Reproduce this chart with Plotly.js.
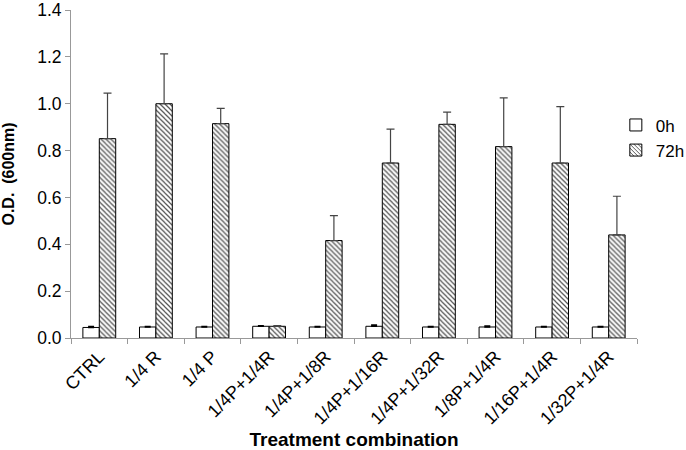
<!DOCTYPE html>
<html><head><meta charset="utf-8">
<script src="https://cdn.plot.ly/plotly-3.0.1.min.js"></script>
<style>body{margin:0;background:#fff}#c{width:686px;height:450px}</style>
</head><body><div id="c"></div>
<script>
const categories = ["CTRL","1/4 R","1/4 P","1/4P+1/4R","1/4P+1/8R","1/4P+1/16R","1/4P+1/32R","1/8P+1/4R","1/16P+1/4R","1/32P+1/4R"];
const values0h = [0.045,0.047,0.047,0.05,0.047,0.05,0.047,0.047,0.047,0.047];
const err0h = [0.004,0.002,0.002,0.002,0.002,0.006,0.002,0.004,0.002,0.002];
const values72h = [0.851,1.0,0.915,0.05,0.416,0.747,0.912,0.817,0.747,0.44];
const err72h = [0.194,0.213,0.065,0.003,0.106,0.145,0.052,0.208,0.241,0.165];
const zeros = categories.map(()=>0);

const t0 = {type:'bar', name:'0h', x:categories, y:values0h,
  marker:{color:'#ffffff', line:{color:'#000', width:1}},
  error_y:{type:'data', symmetric:false, array:err0h, arrayminus:zeros, color:'#000', thickness:1.5, width:3}};
const t1 = {type:'bar', name:'72h', x:categories, y:values72h,
  marker:{color:'#ffffff', line:{color:'#000', width:1}, pattern:{shape:'\\', fgcolor:'#555', bgcolor:'#fff', size:3.5, solidity:0.35}},
  error_y:{type:'data', symmetric:false, array:err72h, arrayminus:zeros, color:'#444', thickness:1.2, width:4}};

const layout = {
  width:686, height:450,
  margin:{l:71, r:49, t:10, b:112, autoexpand:false},
  paper_bgcolor:'#fff', plot_bgcolor:'#fff',
  barmode:'group', bargap:0.42, bargroupgap:0,
  font:{family:'Liberation Sans, Arial, sans-serif', color:'#000'},
  showlegend:true,
  legend:{x:0.9626, xanchor:'left', y:0.703, yanchor:'top', font:{size:17}, bgcolor:'rgba(0,0,0,0)', tracegroupgap:4, itemwidth:30},
  xaxis:{type:'category', showline:true, linecolor:'#999', linewidth:1, ticks:'outside', tickson:'boundaries', ticklen:5, tickcolor:'#999',
    tickangle:-45, tickfont:{size:18}, showgrid:false,
    title:{text:'<b>Treatment combination</b>', font:{size:19}, standoff:12}},
  yaxis:{range:[0,1.4001], dtick:0.2, tickformat:'.1f', showline:true, linecolor:'#999', linewidth:1, ticks:'outside', ticklen:5, tickcolor:'#999',
    tickfont:{size:17.5}, showgrid:false, zeroline:false, ticklabeloverflow:'allow',
    title:{text:'<b>O.D.  (600nm)</b>', font:{size:16}, standoff:18}}
};
Plotly.newPlot('c',[t0,t1],layout,{displayModeBar:false});
</script></body></html>
